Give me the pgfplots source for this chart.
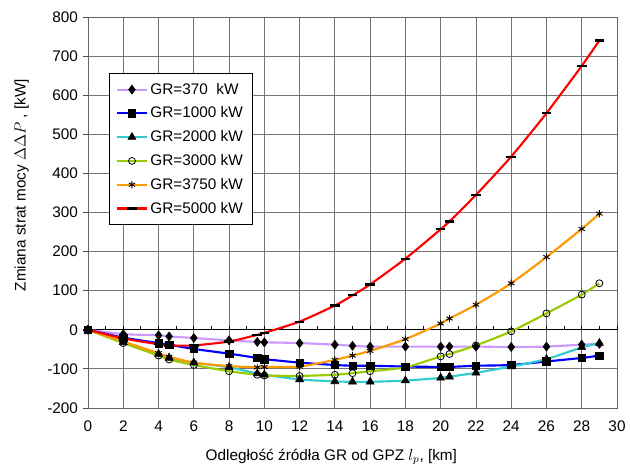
\documentclass[border=0pt]{standalone}
\usepackage{fontspec}
\setmainfont{Liberation Sans}
\usepackage{pgfplots}
\pgfplotsset{compat=1.18}
\usepackage{pgfplotstable}

\definecolor{cA}{RGB}{204,153,255}
\definecolor{cB}{RGB}{0,0,255}
\definecolor{cC}{RGB}{51,204,204}
\definecolor{cD}{RGB}{153,204,0}
\definecolor{cE}{RGB}{255,153,0}
\definecolor{cF}{RGB}{255,0,0}

% x = l_p [km]; columns = Delta Delta P [kW] for each GR
\pgfplotstableread{
x     g370  g1000  g2000  g3000  g3750  g5000
0     0     0      0      0      0      0
2     -11   -20    -32    -34    -30    -22
4     -14   -34    -62    -66    -60    -37
4.6   -17   -38    -72    -76    -69    -40
6     -21   -49    -84    -90    -84    -40
8     -27   -61    -96    -106   -93    -30
9.6   -31   -72    -112   -115   -96    -13
10    -32   -75    -115   -117   -95    -8
12    -34   -84    -127   -118   -94    21
14    -38   -90    -132   -115   -77    62
15    -41   -92    -133   -111   -66    88
16    -43   -92    -133   -106   -54    116
18    -43   -94    -130   -96    -24    182
20    -43   -95    -123   -68    16     257
20.5  -43   -95    -120   -62    29     277
22    -43   -92    -110   -40    64     345
24    -44   -90    -94    -4     119    443
26    -43   -81    -75    42     186    554
28    -38   -72    -45    90     258    675
29    -36   -66    -34    119    297    740
}\data

\begin{document}
\begin{tikzpicture}
\begin{axis}[
  name=ax,
  scale only axis,
  width=396.75pt, height=293.25pt,
  xmin=0, xmax=30, ymin=-200, ymax=800,
  xtick={0,2,...,30},
  ytick={-200,-100,...,800},
  font=\fontsize{11.5}{13.5}\selectfont,
  /pgf/number format/assume math mode=true,
  grid=major,
  major grid style={black!55, line width=0.6pt},
  axis line style={black!60, line width=0.6pt},
  x tick style={draw=none},
  y tick style={black!70, line width=0.6pt},
  major tick length=4pt,
  tick align=outside,
  ytick pos=left,
  xtick pos=bottom,
  xticklabel style={yshift=-2pt},
  xlabel={Odległość źródła GR od GPZ $l_p$, [km]},
  ylabel={Zmiana strat mocy $\Delta\Delta P$ , [kW]},
  xlabel style={at={(ticklabel cs:0.46)}, anchor=near ticklabel, yshift=-6pt},
  ylabel style={at={(ticklabel cs:0.57)}, anchor=near ticklabel, yshift=7pt},
  every axis plot/.append style={smooth, tension=0.4, line width=1.6pt},
  legend style={at={(rel axis cs:0.04,0.856)}, anchor=north west,
    draw=black, line width=0.6pt, font=\fontsize{11.5}{13.5}\selectfont,
    row sep=4pt, inner xsep=5pt, inner ysep=5pt},
  legend cell align=left,
  legend image code/.code={\draw[#1, mark=none] plot coordinates {(0pt,0pt) (22pt,0pt)};
    \draw[#1, only marks] plot coordinates {(11pt,0pt)};},
  clip=false,
]
\draw[black, line width=0.9pt] (axis cs:0,0) -- (axis cs:30,0);
\pgfplotsinvokeforeach{1,...,30}{\draw[black, line width=0.6pt] (axis cs:#1,0) -- ([yshift=3pt]axis cs:#1,0);}

\addplot[cA, mark=diamond*, mark size=3.4pt, mark options={solid, black, line width=0.4pt}]
  table[x=x, y=g370] {\data};
\addlegendentry{GR=370~ kW}
\addplot[cB, mark=square*, mark size=2.8pt, mark options={solid, black, line width=0.4pt}]
  table[x=x, y=g1000] {\data};
\addlegendentry{GR=1000 kW}
\addplot[cC, mark=triangle*, mark size=3.5pt, mark options={solid, black, line width=0.4pt}]
  table[x=x, y=g2000] {\data};
\addlegendentry{GR=2000 kW}
\addplot[cD, mark=o, mark size=2.6pt, mark options={solid, black, line width=0.6pt}]
  table[x=x, y=g3000] {\data};
\addlegendentry{GR=3000 kW}
\addplot[cE, mark=asterisk, mark size=2.7pt, mark options={solid, black, line width=0.7pt}]
  table[x=x, y=g3750] {\data};
\addlegendentry{GR=3750 kW}
\addplot[cF, mark=-, mark size=3.6pt, mark options={solid, black, line width=1.6pt}]
  table[x=x, y=g5000] {\data};
\addlegendentry{GR=5000 kW}
\end{axis}
\pgfresetboundingbox
\path[use as bounding box] ([xshift=-66pt,yshift=-50.25pt]ax.south west)
  rectangle ([xshift=9.75pt,yshift=12.75pt]ax.north east);
\end{tikzpicture}
\end{document}
